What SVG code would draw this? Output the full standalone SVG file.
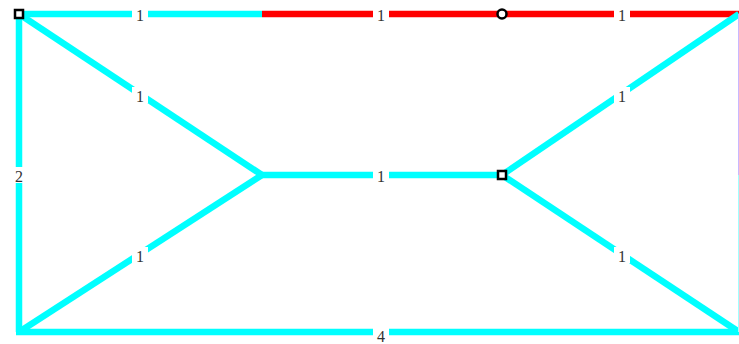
<svg xmlns="http://www.w3.org/2000/svg" width="739" height="344" viewBox="0 0 739 344">
<style>
.e{stroke-width:6.5;fill:none;stroke-linecap:butt}
.c{stroke:#00ffff}
.r{stroke:#ff0000}
.lb{fill:#fff}
.t{font-family:"Liberation Serif","DejaVu Serif",serif;font-size:16px;fill:#333;text-anchor:middle;dominant-baseline:central}
.n{fill:#fff;stroke:#000;stroke-width:2.5}
</style>
<rect width="739" height="344" fill="#fff"/>
<g id="connectors">
<line class="e c" x1="19" y1="14" x2="262" y2="14"/>
<line class="e r" x1="262" y1="14" x2="502" y2="14"/>
<line class="e r" x1="502" y1="14" x2="739" y2="14"/>
<line class="e c" x1="19" y1="14" x2="19" y2="332"/>
<line class="e c" x1="16" y1="332" x2="739" y2="332"/>
<line class="e c" x1="19" y1="14" x2="262" y2="175"/>
<line class="e c" x1="19" y1="332" x2="262" y2="175"/>
<line class="e c" x1="262" y1="175" x2="502" y2="175"/>
<line class="e c" x1="502" y1="175" x2="739" y2="14"/>
<line class="e c" x1="502" y1="175" x2="739" y2="332"/>
<line stroke="#c8b8ff" stroke-width="1" x1="738.5" y1="14" x2="738.5" y2="175"/>
<line stroke="#a0ffff" stroke-width="1" x1="738.5" y1="175" x2="738.5" y2="332"/>
<g id="labels">
<rect class="lb" x="132" y="6" width="16" height="16"/><text class="t" x="140" y="15">1</text>
<rect class="lb" x="373" y="6" width="16" height="16"/><text class="t" x="381" y="15">1</text>
<rect class="lb" x="614" y="6" width="16" height="16"/><text class="t" x="622" y="15">1</text>
<rect class="lb" x="11" y="167" width="16" height="16"/><text class="t" x="19" y="176">2</text>
<rect class="lb" x="373" y="167" width="16" height="16"/><text class="t" x="381" y="176">1</text>
<rect class="lb" x="373" y="326" width="16" height="16"/><text class="t" x="381" y="336">4</text>
<rect class="lb" x="132" y="87" width="16" height="16"/><text class="t" x="140" y="96">1</text>
<rect class="lb" x="132" y="247" width="16" height="16"/><text class="t" x="140" y="256">1</text>
<rect class="lb" x="614" y="87" width="16" height="16"/><text class="t" x="622" y="96">1</text>
<rect class="lb" x="614" y="247" width="16" height="16"/><text class="t" x="622" y="256">1</text>
</g>
</g>
<g id="n1"><rect class="n" x="15" y="10" width="8" height="8"/></g>
<g id="n2"><circle class="n" cx="502" cy="14" r="4.5"/></g>
<g id="n3"><rect class="n" x="498" y="171" width="8" height="8"/></g>
</svg>
